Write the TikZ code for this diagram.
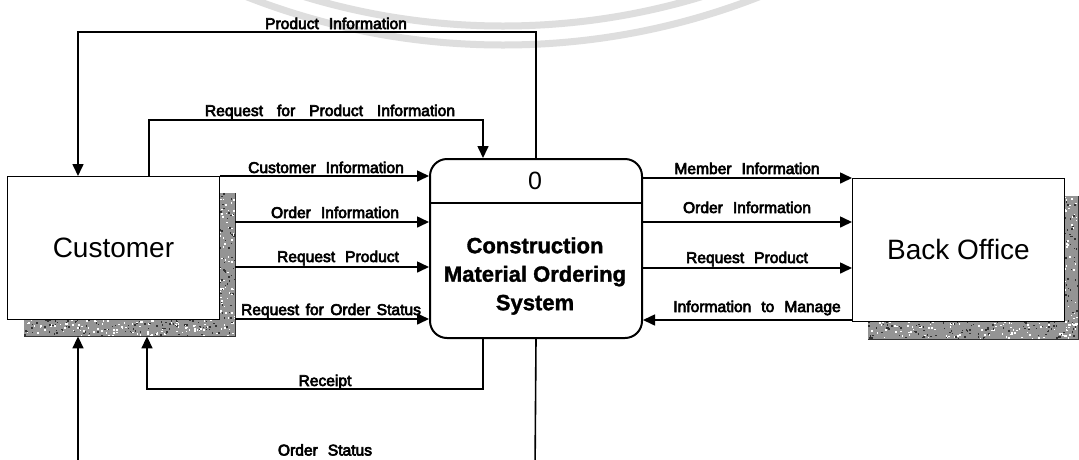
\documentclass[tikz,border=0pt]{standalone}
\usepackage{fontspec}
\setmainfont{Liberation Sans}
\newfontfamily\lblfont[FakeBold=4]{Liberation Sans}
\newfontfamily\procfont[FakeBold=1.5]{Liberation Sans Bold}
\usetikzlibrary{arrows.meta,calc}
\begin{document}
\begin{tikzpicture}[x=1pt,y=-1pt,
  ent/.style={draw=black,line width=0.9pt,fill=white,minimum width=212pt,minimum height=143pt,inner sep=0pt,anchor=north west,font=\fontsize{28}{30}\selectfont},
  shad/.style={fill=black!42,draw=none,minimum width=211pt,minimum height=143pt,inner sep=0pt,anchor=north west},
  procbox/.style={draw=black,line width=2pt,rounded corners=17pt,minimum width=212pt,minimum height=179pt,inner sep=0pt,anchor=north west},
  flow/.style={line width=1.6pt,-{Triangle[length=12pt,width=11pt]}},
  lbl/.style={anchor=base,inner sep=0pt,font={\lblfont\fontsize{15.6}{17}\selectfont\spaceskip=10pt\relax}},
  lblnarrow/.style={anchor=base,inner sep=0pt,font={\lblfont\fontsize{15.6}{17}\selectfont\spaceskip=6.5pt\relax}},
  lblwide/.style={anchor=base,inner sep=0pt,font={\lblfont\fontsize{15.6}{17}\selectfont\spaceskip=14pt\relax}},
  wmark/.style={black!13,line width=7pt},
  speck/.style={fill=black!80,draw=none},
  wspeck/.style={fill=white,draw=none},
]
\useasboundingbox (0,0) rectangle (1079,459);
\fill[white] (0,0) rectangle (1079,459);
\clip (0,0) rectangle (1079,459);

% watermark
\draw[wmark] (503,-657) circle[radius=702pt];
\draw[wmark] (503,-657) circle[radius=683pt];

% entities with speckled shadows
\node[shad] (csh) at (24,193) {};
\node[shad,minimum width=210pt] (bsh) at (868,196) {};
\pgfmathsetseed{11}
\foreach \k in {1,...,900}{
  \pgfmathsetmacro{\ux}{24+rnd*210}
  \pgfmathsetmacro{\uy}{193+rnd*142}
  \fill[speck] (\ux,\uy) rectangle ++(1.5,1.5);
  \pgfmathsetmacro{\vx}{868+rnd*209}
  \pgfmathsetmacro{\vy}{196+rnd*142}
  \fill[speck] (\vx,\vy) rectangle ++(1.5,1.5);
  \pgfmathsetmacro{\wx}{24+rnd*210}
  \pgfmathsetmacro{\wy}{193+rnd*142}
  \fill[wspeck] (\wx,\wy) rectangle ++(1.6,1.6);
  \pgfmathsetmacro{\zx}{868+rnd*209}
  \pgfmathsetmacro{\zy}{196+rnd*142}
  \fill[wspeck] (\zx,\zy) rectangle ++(1.6,1.6);
}
\draw[black!80,line width=1.3pt] (csh.south west) -- (csh.south east) -- (csh.north east);
\draw[black!80,line width=1.3pt] (bsh.south west) -- (bsh.south east) -- (bsh.north east);
\node[ent] (cust) at (7,176) {Customer};
\node[ent] (bo) at (852,178) {Back Office};

% process
\node[procbox] (proc) at (429,158) {};
\draw[line width=1.6pt] ($(proc.north west)+(0,45)$) -- ($(proc.north east)+(0,45)$);
\node[font=\fontsize{25}{25}\selectfont] (zero) at (535,181) {0};
\node[align=center,font=\procfont\fontsize{22}{28.5}\selectfont] (ptext) at (535,276) {Construction\\Material Ordering\\System};

% lanes
\coordinate (L2) at (0,222);
\coordinate (L3) at (0,267);
\coordinate (L4) at (0,319);
\coordinate (R2) at (0,222);
\coordinate (R3) at (0,268);
\coordinate (R4) at (0,320);

\draw[flow] (cust.north east) -- (proc.west |- cust.north east);
\draw[flow] (csh.east |- L2) -- (proc.west |- L2);
\draw[flow] (csh.east |- L3) -- (proc.west |- L3);
\draw[flow] (csh.east |- L4) -- (proc.west |- L4);

\draw[flow] (proc.east |- bo.north west) -- (bo.north west);
\draw[flow] (proc.east |- R2) -- (bo.west |- R2);
\draw[flow] (proc.east |- R3) -- (bo.west |- R3);
\draw[flow] (bo.west |- R4) -- (proc.east |- R4);

% top loops
\coordinate (pi) at (78,32);
\draw[flow] (proc.north) |- (pi) -- (pi |- cust.north);
\coordinate (rq) at (149,120);
\coordinate (rq2) at (483,120);
\draw[flow] (rq |- cust.north) -- (rq) -- (rq2) -- (rq2 |- proc.north);

% bottom loops
\coordinate (rc1) at (483,389);
\coordinate (rc2) at (147,389);
\draw[flow] (rc1 |- proc.south) -- (rc1) -- (rc2) -- (rc2 |- csh.south);
\coordinate (os1) at (535,475);
\coordinate (os2) at (78,475);
\draw[flow] (proc.south) -- (os1) -- (os2) -- (os2 |- csh.south);

% labels
\node[lbl] (lPI) at (336,29) {Product Information};
\node[lblwide] (lRPI) at (330,116) {Request for Product Information};
\node[lbl] (lCI) at (326,173) {Customer Information};
\node[lbl] (lOI) at (335,218) {Order Information};
\node[lbl] (lRP) at (338,262) {Request Product};
\node[lblnarrow] (lROS) at (331,315) {Request for Order Status};
\node[lbl] (lRc) at (325,386) {Receipt};
\node[lbl] (lOS) at (325,455.5) {Order Status};
\node[lbl] (lMI) at (747,174) {Member Information};
\node[lbl] (lOI2) at (747,213) {Order Information};
\node[lbl] (lRP2) at (747,263) {Request Product};
\node[lbl] (lIM) at (757,312) {Information to Manage};
\end{tikzpicture}
\end{document}
